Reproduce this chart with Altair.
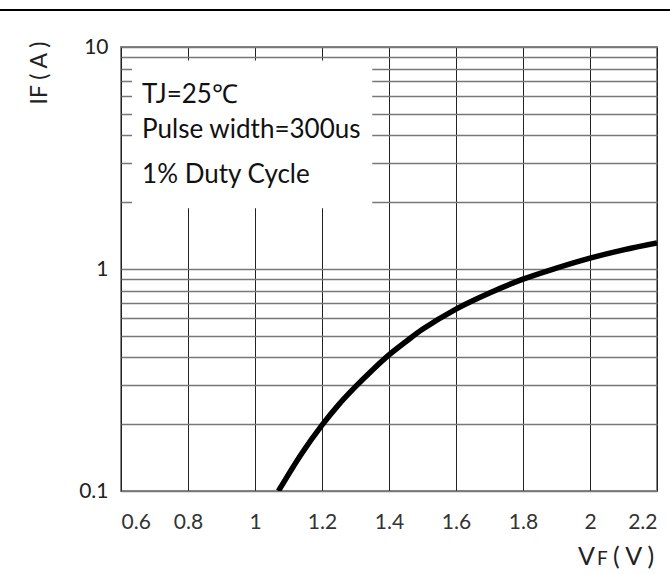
import altair as alt
import pandas as pd

# Curve data
vf = [1.07, 1.14, 1.2, 1.25, 1.3, 1.35, 1.4, 1.45, 1.5, 1.6, 1.7, 1.8, 1.9, 2.0, 2.1, 2.2]
if_a = [0.1, 0.148, 0.198, 0.245, 0.295, 0.35, 0.41, 0.47, 0.535,
        0.66, 0.78, 0.90, 1.01, 1.12, 1.22, 1.31]

x_ticks = [0.6, 0.8, 1.0, 1.2, 1.4, 1.6, 1.8, 2.0, 2.2]
y_grid = [0.1, 0.2, 0.3, 0.4, 0.5, 0.6, 0.7, 0.8, 0.9,
          1, 2, 3, 4, 5, 6, 7, 8, 9, 10]
notes = ["TJ=25℃", "Pulse width=300us", "1% Duty Cycle"]
note_y = [5.6, 3.89, 2.44]

FONT = "Lato"
curve = pd.DataFrame({"VF": vf, "IF": if_a})
one = pd.DataFrame({"k": [0]})

xs = alt.Scale(domain=[0.6, 2.2], nice=False, zero=False)
ys = alt.Scale(type="log", domain=[0.1, 10], nice=False)

line = alt.Chart(curve).mark_line(color="black", strokeWidth=5.5, interpolate="catmull-rom",
                                   clip=True).encode(
    x=alt.X("VF:Q", scale=xs, axis=alt.Axis(
        values=x_ticks, format="~g", title=None, grid=True, gridColor="#222",
        gridWidth=1, ticks=False, domain=False, labelPadding=20, labelColor="#333",
        labelFont=FONT, labelFontSize=21)),
    y=alt.Y("IF:Q", scale=ys, axis=alt.Axis(
        values=y_grid, title=None, grid=True, gridColor="#777", gridWidth=1.5,
        ticks=False, domain=False, labelPadding=13, labelColor="#222",
        labelFont=FONT, labelFontSize=21,
        labelExpr="datum.value==0.1?'0.1':(datum.value==1?'1':(datum.value==10?'10':''))")),
)

box = alt.Chart(pd.DataFrame({"x": [0.633], "x2": [1.35], "y": [1.88], "y2": [8.7]})).mark_rect(
    color="white").encode(x=alt.X("x:Q", scale=xs), x2="x2:Q",
                          y=alt.Y("y:Q", scale=ys), y2="y2:Q")

txt = alt.Chart(pd.DataFrame({"t": notes, "x": [0.663] * 3, "y": note_y})).mark_text(
    align="left", baseline="alphabetic", font=FONT, fontSize=26, fontWeight=400,
    color="#111").encode(
    x=alt.X("x:Q", scale=xs), y=alt.Y("y:Q", scale=ys), text="t:N")

top_rule = alt.Chart(one).mark_rule(color="black", strokeWidth=2, clip=False).encode(
    x=alt.value(-121), x2=alt.value(549), y=alt.value(-37))

ytitle = alt.Chart(one).mark_text(text="IF  (  A  )", angle=270, font=FONT, fontSize=23,
                                  fontWeight=400, color="#222", align="center",
                                  baseline="middle").encode(
    x=alt.value(-81), y=alt.value(26))

xt1 = alt.Chart(one).mark_text(text="V", font=FONT, fontSize=25, fontWeight=400,
                               color="#222", align="left", baseline="alphabetic").encode(
    x=alt.value(457), y=alt.value(518))
xt2 = alt.Chart(one).mark_text(text="F", font=FONT, fontSize=19, fontWeight=400,
                               color="#222", align="left", baseline="alphabetic").encode(
    x=alt.value(476), y=alt.value(518))
xt3 = alt.Chart(one).mark_text(text="(  V  )", font=FONT, fontSize=25, fontWeight=400,
                               color="#222", align="left", baseline="alphabetic").encode(
    x=alt.value(492), y=alt.value(518))

chart = alt.layer(box, line, txt, top_rule, ytitle, xt1, xt2, xt3).properties(
    width=536, height=444,
    padding={"left": 121, "top": 47, "right": 13, "bottom": 83},
    autosize="none",
    background="white",
).configure_view(stroke="#888", strokeWidth=2)

chart.save("out.html", embed_options={"renderer": "svg", "actions": False})
